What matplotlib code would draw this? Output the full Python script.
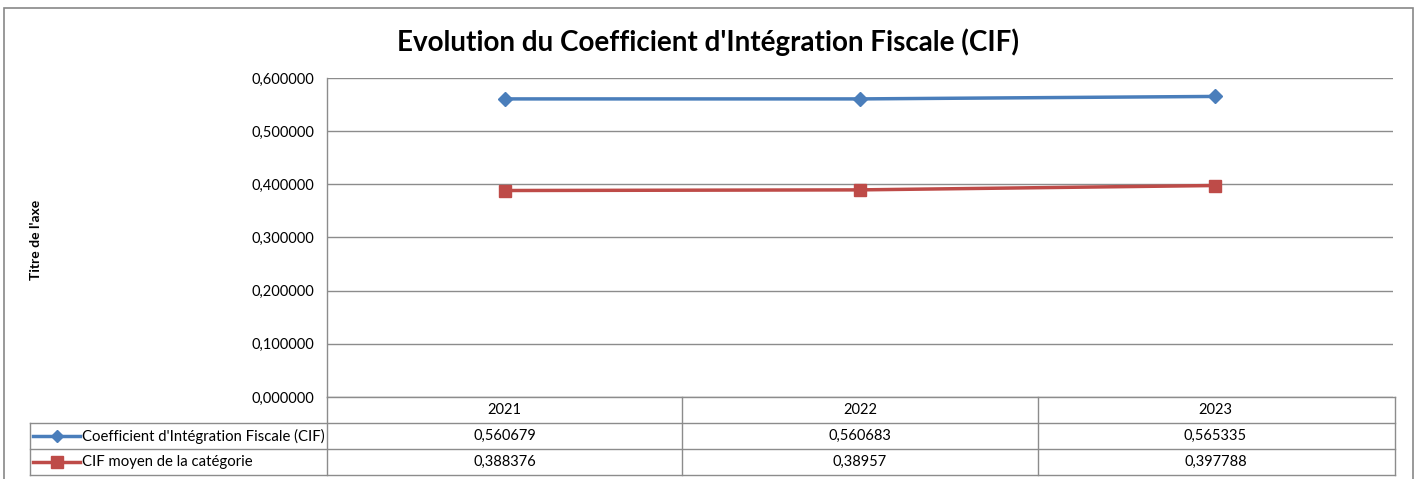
"""Evolution du CIF - line chart with Excel-style data table underneath."""
import matplotlib.pyplot as plt
from matplotlib.patches import Rectangle

years = ["2021", "2022", "2023"]
cif = [0.560679, 0.560683, 0.565335]
cif_moyen = [0.388376, 0.38957, 0.397788]
cif_labels = ["0,560679", "0,560683", "0,565335"]
moyen_labels = ["0,388376", "0,38957", "0,397788"]
series_names = ["Coefficient d'Intégration Fiscale (CIF)", "CIF moyen de la catégorie"]
yticks = [0.0, 0.1, 0.2, 0.3, 0.4, 0.5, 0.6]

BLUE = "#4a7ebb"
RED = "#be4b48"
GRID = "#8c8c8c"
FONT = ["Lato", "DejaVu Sans"]

plt.rcParams["font.family"] = FONT

W, H = 1416, 479
fig = plt.figure(figsize=(W / 100, H / 100), dpi=100)

# outer chart frame
fig.patches.append(Rectangle((4 / W, -0.01), 1409 / W, 1 - 8 / H + 0.01,
                             transform=fig.transFigure, fill=False,
                             edgecolor="#888888", linewidth=1.2))

left, right, top, bottom = 327, 1393, 78, 397
ax = fig.add_axes([left / W, 1 - bottom / H, (right - left) / W, (bottom - top) / H])

x = [i + 0.5 for i in range(len(years))]
ax.plot(x, cif, color=BLUE, linewidth=2.5, marker="D", markersize=7,
        markerfacecolor=BLUE, markeredgecolor=BLUE, zorder=3)
ax.plot(x, cif_moyen, color=RED, linewidth=2.5, marker="s", markersize=8.5,
        markerfacecolor=RED, markeredgecolor=RED, zorder=3)

ax.set_xlim(0, len(years))
ax.set_ylim(0, 0.6)
ax.set_yticks(yticks)
ax.set_yticklabels([f"{v:.6f}".replace(".", ",") for v in yticks], fontsize=10.5)
ax.set_xticks([])
ax.tick_params(axis="y", length=0, pad=9)
ax.grid(axis="y", color=GRID, linewidth=1)
for s in ["top", "right", "bottom"]:
    ax.spines[s].set_visible(False)
ax.spines["left"].set_color(GRID)
ax.spines["left"].set_linewidth(1)

# data table below the axes, in axes coordinates
row_h = 26 / (bottom - top)
leg_x = (30 - left) / (right - left)
tbl_right = (1395 - left) / (right - left)
lk = dict(color=GRID, linewidth=1, transform=ax.transAxes, clip_on=False)

ax.plot([0, tbl_right], [0, 0], **lk)
ax.plot([leg_x, tbl_right], [-row_h, -row_h], **lk)
ax.plot([leg_x, tbl_right], [-2 * row_h, -2 * row_h], **lk)
ax.plot([leg_x, tbl_right], [-3 * row_h, -3 * row_h], **lk)
ax.plot([leg_x, leg_x], [-row_h, -3 * row_h], **lk)
ax.plot([0, 0], [0, -3 * row_h], **lk)
for i in range(1, len(years)):
    ax.plot([i / 3, i / 3], [0, -3 * row_h], **lk)
ax.plot([tbl_right, tbl_right], [0, -3 * row_h], **lk)

tk = dict(transform=ax.transAxes, ha="center", va="center", fontsize=10.5, color="#000000")
for i, yr in enumerate(years):
    cx = (i + 0.5) / 3
    ax.text(cx, -0.5 * row_h, yr, **tk)
    ax.text(cx, -1.5 * row_h, cif_labels[i], **tk)
    ax.text(cx, -2.5 * row_h, moyen_labels[i], **tk)

# legend keys inside the first column
key_x0 = (33 - left) / (right - left)
key_x1 = (80 - left) / (right - left)
key_mid = (key_x0 + key_x1) / 2
for j, (col, mk, ms) in enumerate([(BLUE, "D", 6.5), (RED, "s", 8)]):
    yy = -(1.5 + j) * row_h
    ax.plot([key_x0, key_x1], [yy, yy], color=col, linewidth=2.5,
            transform=ax.transAxes, clip_on=False)
    ax.plot([key_mid], [yy], marker=mk, markersize=ms, color=col,
            transform=ax.transAxes, clip_on=False)
    ax.text((82 - left) / (right - left), yy, series_names[j], transform=ax.transAxes,
            ha="left", va="center", fontsize=10.7)

fig.text(708 / W, 1 - 42 / H, "Evolution du Coefficient d'Intégration Fiscale (CIF)",
         ha="center", va="center", fontsize=20, fontweight="bold")
fig.text(36 / W, 1 - 240 / H, "Titre de l'axe", rotation=90,
         ha="center", va="center", fontsize=10, fontweight="bold")

fig.savefig("out.png", dpi=100)
